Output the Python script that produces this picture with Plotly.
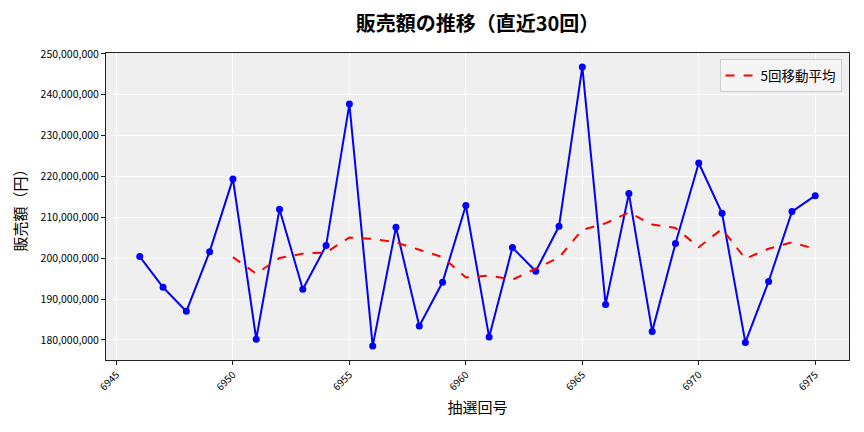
import pandas as pd
import plotly.graph_objects as go

# 抽選回号と販売額
draws = list(range(6946, 6976))
sales = [
    200.4, 192.9, 187.0, 201.6, 219.4, 180.2, 212.0, 192.4, 203.1, 237.7,
    178.5, 207.6, 183.4, 194.1, 212.9, 180.7, 202.6, 196.8, 207.8, 246.8,
    188.7, 215.8, 182.1, 203.6, 223.3, 211.0, 179.4, 194.3, 211.4, 215.3,
]
sales = [v * 1_000_000 for v in sales]

ma_window = 5
ma_label = "5回移動平均"
x_ticks = [6945, 6950, 6955, 6960, 6965, 6970, 6975]
y_ticks = [180_000_000 + i * 10_000_000 for i in range(8)]

ma = pd.Series(sales).rolling(ma_window).mean().tolist()

FONT = "Noto Sans CJK JP"

fig = go.Figure()
fig.add_trace(go.Scatter(
    x=draws, y=sales, mode="lines+markers", showlegend=False,
    line=dict(color="#0000ff", width=2),
    marker=dict(color="#0000ff", size=7),
))
fig.add_trace(go.Scatter(
    x=draws, y=ma, mode="lines", name=ma_label,
    line=dict(color="#ff0000", width=2, dash="dash"),
))

axis_common = dict(
    showline=True, linecolor="#222", linewidth=1, mirror=True,
    showgrid=True, gridcolor="white", gridwidth=1,
    ticks="outside", ticklen=4, tickcolor="#222",
    zeroline=False,
)

# the page body adds an 8px offset, so the figure is a bit smaller than the window
fig.update_layout(
    width=856, height=424,
    margin=dict(l=98, r=15, t=45, b=72),
    paper_bgcolor="white", plot_bgcolor="#efefef",
    font=dict(family=FONT, color="black"),
    title=dict(text="<b>販売額の推移（直近30回）</b>", xref="paper", x=0.5,
               xanchor="center", y=0.962, yanchor="middle",
               font=dict(size=20, family=FONT)),
    xaxis=dict(
        **axis_common, range=[6944.55, 6976.45], tickvals=x_ticks,
        tickangle=-45, tickfont=dict(size=10),
        title=dict(text="抽選回号", font=dict(size=15), standoff=10),
    ),
    yaxis=dict(
        **axis_common, range=[175_100_000, 250_200_000], tickvals=y_ticks,
        tickformat=",d", tickfont=dict(size=10.5),
        title=dict(text="販売額（円）", font=dict(size=15), standoff=10),
    ),
    legend=dict(
        x=0.99, y=0.98, xanchor="right", yanchor="top",
        bgcolor="rgba(245,245,245,0.9)", bordercolor="#cccccc", borderwidth=1,
        font=dict(size=13.5),
    ),
)

fig.write_html("out.html")
